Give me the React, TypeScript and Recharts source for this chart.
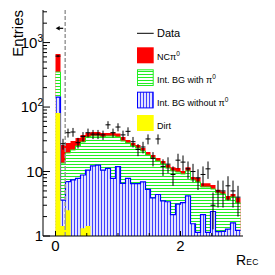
import React from 'react';
import { ComposedChart, Area, Scatter, XAxis, YAxis, ErrorBar, ReferenceLine, Legend } from 'recharts';

const FONT = '"Liberation Sans", Arial, Helvetica, sans-serif';

// histogram binning (R_EC)
const binStart = 0;
const binWidth = 0.08;

// stacked components per bin (entries)
const dirt = [81, 1.43, 2.5, 0, 0, 1.32, 1.43, 0, 0, 0, 0, 0, 0, 0, 0, 0, 0, 0, 0, 0, 0, 0, 0, 0, 0, 0, 0, 0, 0, 0, 0, 0, 0, 0, 0, 0, 0];
const bgNoPi0 = [62, 2.17, 4.45, 7.4, 7.85, 7.51, 9.07, 12.2, 12.6, 10.5, 11.2, 7.85, 11.9, 6.56, 7.85, 6.5, 6.5, 6.9, 5.3, 3.9, 4.4, 3.5, 3.4, 2.15, 3.13, 3.3, 4.2, 1.55, 1.14, 2.14, 1.14, 2.4, 1.17, 1.18, 1.28, 1.6, 1.22];
const bgWithPi0 = [206, 9.9, 12.45, 14.2, 17.05, 19.87, 23.8, 23.3, 22.9, 23.8, 24.3, 27.65, 22.4, 23.14, 19.85, 18.4, 16.6, 13.9, 12.7, 12.3, 10.1, 9.6, 7.9, 8.05, 6.67, 5.85, 6.0, 5.83, 5.73, 3.61, 4.61, 2.95, 3.47, 3.3, 2.33, 2.43, 2.03];
const ncPi0 = [314, 12.2, 8.3, 8.1, 8.2, 8.1, 5.2, 5.5, 5.5, 5.2, 4.0, 4.7, 4.6, 4.6, 3.1, 2.8, 2.6, 2.3, 2.1, 1.8, 1.7, 1.4, 1.3, 1.5, 1.5, 1.05, 1.5, 0.82, 1.03, 0.85, 0.85, 0.85, 0.56, 0.42, 0.56, 0.45, 0.63];
const dataCounts = [617, 27, 40, 41, 28, 35, 40, 38, 38, 37, 53, 40, 49, 37, 42, 29, 22, 24, 32, 16, 32, 12, 13, 9, 15, 14, 11, 10, 8, 9, 11, 3, 5, 5, 6, 5, 4];

// axis ticks
const xTicks = [0, 0.5, 1, 1.5, 2, 2.5];
const xLabelled = [0, 2];
const yMajor = [1, 10, 100, 1000];
const yMinor = [2, 3, 4, 5, 6, 7, 8, 9, 20, 30, 40, 50, 60, 70, 80, 90, 200, 300, 400, 500, 600, 700, 800, 900, 2000, 3000];
const yTicks = [...yMajor, ...yMinor].sort((a, b) => a - b);
const cutValue = 0.155;

const floor1 = (v: number) => Math.max(v, 1);

const histData = (() => {
  const rows: any[] = [];
  for (let i = 0; i < dirt.length; i++) {
    const y = dirt[i];
    const b = y + bgNoPi0[i];
    const g = b + bgWithPi0[i];
    const r = g + ncPi0[i];
    rows.push({ x: binStart + i * binWidth, yel: floor1(y), blu: floor1(b), grn: floor1(g), red: floor1(r) });
  }
  const last = rows[rows.length - 1];
  rows.push({ ...last, x: binStart + dirt.length * binWidth });
  return rows;
})();

const pointData = dataCounts.map((n, i) => ({
  x: binStart + (i + 0.5) * binWidth,
  y: n,
  ey: Math.sqrt(n),
  ex: binWidth / 2,
}));

const YTick = (props: any) => {
  const { x, y, payload } = props;
  const v = payload.value;
  const major = yMajor.includes(v);
  const e = Math.round(Math.log10(v));
  return (
    <g>
      <line x1={x} x2={x + (major ? 7 : 4)} y1={y} y2={y} stroke="#000" strokeWidth={1} />
      {major && (
        <text x={x} y={y + 5.4} textAnchor="end" fontSize={15} fontFamily={FONT} fill="#000">
          {e <= 1 ? String(v) : '10'}
          {e > 1 && (
            <tspan fontSize={10} dy={-6}>{String(e)}</tspan>
          )}
        </text>
      )}
    </g>
  );
};

const XTick = (props: any) => {
  const { x, y, payload } = props;
  const v = payload.value;
  const major = xLabelled.includes(v);
  return (
    <g>
      <line x1={x} x2={x} y1={y} y2={y - (major ? 5 : 3)} stroke="#000" strokeWidth={1} />
      {major && (
        <text x={x} y={y + 15} textAnchor="middle" fontSize={15} fontFamily={FONT} fill="#000">
          {String(v)}
        </text>
      )}
    </g>
  );
};

const EntriesLabel = (props: any) => {
  const vb = props.viewBox || { x: 0, y: 0 };
  const cx = vb.x + 15;
  const cy = vb.y;
  return (
    <text x={cx} y={cy} transform={`rotate(-90 ${cx} ${cy})`} textAnchor="end" fontSize={15} fontFamily={FONT} fill="#000">
      Entries
    </text>
  );
};

const RecLabel = (props: any) => {
  const vb = props.viewBox || { x: 0, y: 0, width: 0 };
  const x = vb.x + vb.width - 7;
  const y = vb.y + 29;
  return (
    <text x={x} y={y} fontSize={14} fontFamily={FONT} fill="#000">
      R<tspan fontSize={8.5} letterSpacing={0.5}>EC</tspan>
    </text>
  );
};

const CutArrow = (props: any) => {
  const vb = props.viewBox || { x: 0, y: 0 };
  const x = vb.x;
  const y = vb.y + 18.3;
  return (
    <g>
      <line x1={x - 2} x2={x - 6} y1={y} y2={y} stroke="#000" strokeWidth={1.2} />
      <polygon points={`${x - 9.5},${y} ${x - 5.5},${y - 2.2} ${x - 5.5},${y + 2.2}`} fill="#000" />
    </g>
  );
};

const LegendBox = () => (
  <svg width={112} height={112} style={{ display: 'block', overflow: 'visible' }}>
    <defs>
      <pattern id="lgGreen" width="4" height="3" patternUnits="userSpaceOnUse">
        <rect width="4" height="3" fill="#fff" />
        <rect width="4" height="1" fill="#22ee22" />
      </pattern>
      <pattern id="lgBlue" width="3" height="4" patternUnits="userSpaceOnUse">
        <rect width="3" height="4" fill="#e2e2ff" />
        <rect width="1" height="4" fill="#4040ff" />
      </pattern>
    </defs>
    <line x1={0} x2={16.7} y1={10.3} y2={10.3} stroke="#000" strokeWidth={1} />
    <text x={20} y={14.3} fontSize={11} fontFamily={FONT} fill="#000">Data</text>

    <rect x={0} y={24.3} width={16.7} height={16} fill="#ff0000" />
    <text x={20} y={36.7} fontSize={9} fontFamily={FONT} fill="#000">
      NCπ<tspan fontSize={6.5} dy={-4}>0</tspan>
    </text>

    <rect x={0.5} y={46.8} width={15.7} height={15.7} fill="url(#lgGreen)" stroke="#22ee22" strokeWidth={1} />
    <text x={20} y={60} fontSize={9} fontFamily={FONT} fill="#000">
      Int. BG with π<tspan fontSize={6.5} dy={-4}>0</tspan>
    </text>

    <rect x={0.5} y={69.2} width={15.7} height={15.7} fill="url(#lgBlue)" stroke="#0000ff" strokeWidth={1} />
    <text x={20} y={82.7} fontSize={9} fontFamily={FONT} fill="#000">
      Int. BG without π<tspan fontSize={6.5} dy={-4}>0</tspan>
    </text>

    <rect x={0} y={92} width={16.7} height={16} fill="#ffff00" />
    <text x={20} y={105.7} fontSize={9} fontFamily={FONT} fill="#000">Dirt</text>
  </svg>
);

export default function App() {
  return (
    <ComposedChart
      width={267}
      height={267}
      data={histData}
      margin={{ top: 2, right: 32, bottom: 0, left: 0 }}
      style={{ fontFamily: FONT }}
    >
      <defs>
        <pattern id="greenHatch" width="4" height="3" patternUnits="userSpaceOnUse">
          <rect width="4" height="3" fill="#fff" />
          <rect width="4" height="1" fill="#22ee22" />
        </pattern>
        <pattern id="blueHatch" width="3" height="4" patternUnits="userSpaceOnUse">
          <rect width="3" height="4" fill="#e2e2ff" />
          <rect width="1" height="4" fill="#4040ff" />
        </pattern>
      </defs>
      <XAxis
        dataKey="x"
        type="number"
        domain={[-0.2, 3]}
        allowDataOverflow
        ticks={xTicks}
        interval={0}
        tickSize={0}
        tickMargin={0}
        tick={<XTick />}
        height={39}
        axisLine={{ stroke: '#000' }}
        tickLine={false}
        label={<RecLabel />}
      />
      <XAxis
        xAxisId="top"
        orientation="top"
        type="number"
        domain={[-0.2, 3]}
        allowDataOverflow
        height={0}
        tick={false}
        tickLine={false}
        axisLine={{ stroke: '#000' }}
      />
      <YAxis
        dataKey="y"
        type="number"
        scale="log"
        domain={[1, 3200]}
        allowDataOverflow
        ticks={yTicks}
        interval={0}
        tickSize={0}
        tickMargin={0}
        tick={<YTick />}
        width={35}
        axisLine={{ stroke: '#000' }}
        tickLine={false}
        label={<EntriesLabel />}
      />
      <YAxis
        yAxisId="right"
        orientation="right"
        type="number"
        domain={[1, 3200]}
        scale="log"
        allowDataOverflow
        width={0}
        tick={false}
        tickLine={false}
        axisLine={{ stroke: '#000' }}
      />
      <Area type="stepAfter" dataKey="red" baseValue={1} stroke="none" fill="#ff0000" fillOpacity={1} isAnimationActive={false} dot={false} activeDot={false} />
      <Area type="stepAfter" dataKey="grn" baseValue={1} stroke="#22ee22" strokeWidth={1} fill="url(#greenHatch)" fillOpacity={1} isAnimationActive={false} dot={false} activeDot={false} />
      <Area type="stepAfter" dataKey="blu" baseValue={1} stroke="#0000ff" strokeWidth={1.2} fill="url(#blueHatch)" fillOpacity={1} isAnimationActive={false} dot={false} activeDot={false} />
      <Area type="stepAfter" dataKey="yel" baseValue={1} stroke="none" fill="#ffff00" fillOpacity={1} isAnimationActive={false} dot={false} activeDot={false} />
      <ReferenceLine x={cutValue} stroke="#999" strokeWidth={1.5} strokeDasharray="4 2" label={<CutArrow />} />
      <Scatter data={pointData} dataKey="y" isAnimationActive={false} shape={() => <g />}>
        <ErrorBar dataKey="ey" direction="y" width={0} stroke="#000" strokeWidth={1} />
        <ErrorBar dataKey="ex" direction="x" width={0} stroke="#000" strokeWidth={1} />
      </Scatter>
      <Legend
        layout="vertical"
        align="center"
        verticalAlign="middle"
        content={<LegendBox />}
        wrapperStyle={{ left: 129, top: 15, width: 112, height: 112 }}
      />
    </ComposedChart>
  );
}
